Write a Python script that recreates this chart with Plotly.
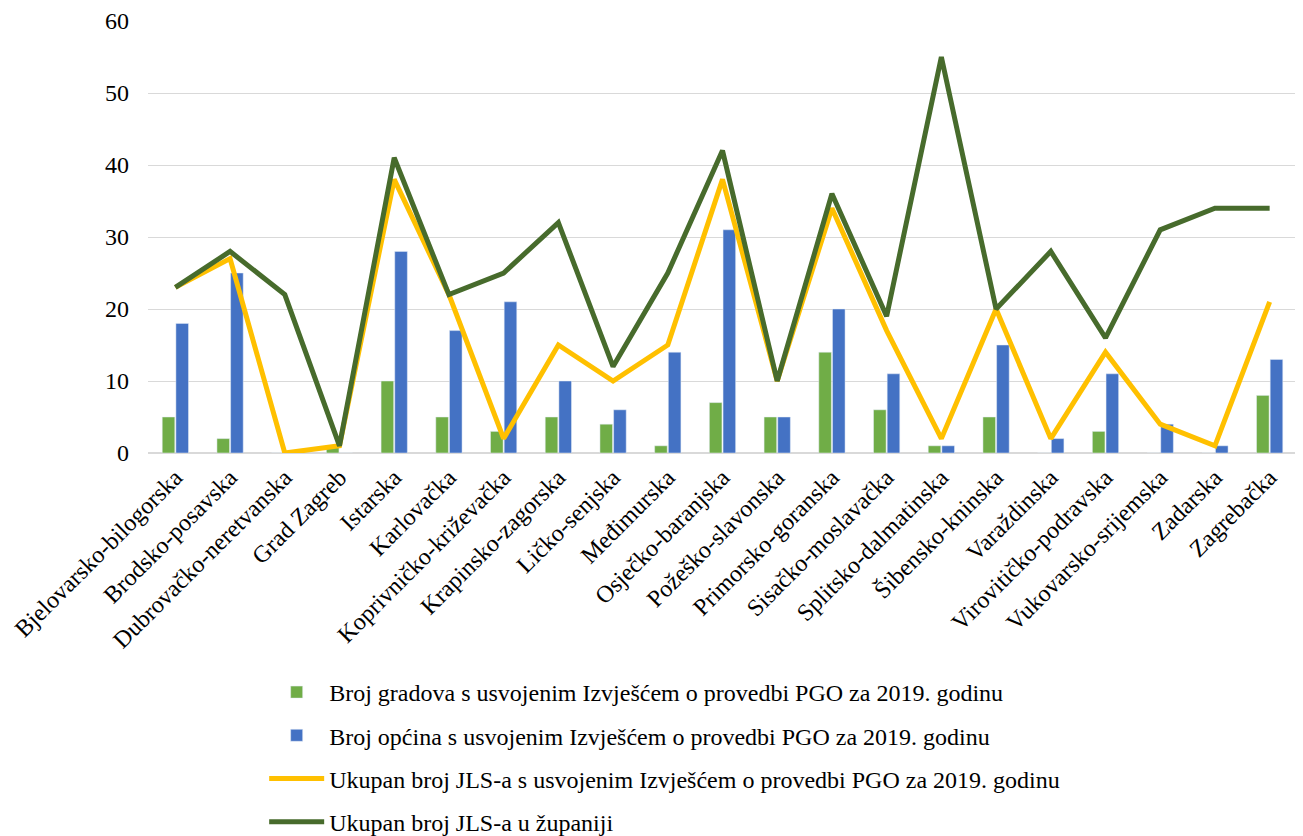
import plotly.graph_objects as go

categories = ["Bjelovarsko-bilogorska", "Brodsko-posavska", "Dubrovačko-neretvanska", "Grad Zagreb",
              "Istarska", "Karlovačka", "Koprivničko-križevačka", "Krapinsko-zagorska", "Ličko-senjska",
              "Međimurska", "Osječko-baranjska", "Požeško-slavonska", "Primorsko-goranska",
              "Sisačko-moslavačka", "Splitsko-dalmatinska", "Šibensko-kninska", "Varaždinska",
              "Virovitičko-podravska", "Vukovarsko-srijemska", "Zadarska", "Zagrebačka"]
gradovi = [5, 2, 0, 1, 10, 5, 3, 5, 4, 1, 7, 5, 14, 6, 1, 5, 0, 3, 0, 0, 8]
opcine = [18, 25, 0, 0, 28, 17, 21, 10, 6, 14, 31, 5, 20, 11, 1, 15, 2, 11, 4, 1, 13]
ukupno_usvojeno = [23, 27, 0, 1, 38, 22, 2, 15, 10, 15, 38, 10, 34, 17, 2, 20, 2, 14, 4, 1, 21]
ukupno_jls = [23, 28, 22, 1, 41, 22, 25, 32, 12, 25, 42, 10, 36, 19, 55, 20, 28, 16, 31, 34, 34]
y_ticks = [0, 10, 20, 30, 40, 50, 60]

names = ["Broj gradova s usvojenim Izvješćem o provedbi PGO za 2019. godinu",
         "Broj općina s usvojenim Izvješćem o provedbi PGO za 2019. godinu",
         "Ukupan broj JLS-a s usvojenim Izvješćem o provedbi PGO za 2019. godinu",
         "Ukupan broj JLS-a u županiji"]

fig = go.Figure()
fig.add_trace(go.Bar(x=categories, y=gradovi, name=names[0], marker_color="#70AD47",
                     legendgroup="a"))
fig.add_trace(go.Bar(x=categories, y=opcine, name=names[1], marker_color="#4472C4",
                     legendgroup="b"))
fig.add_trace(go.Scatter(x=categories, y=ukupno_usvojeno, name=names[2], mode="lines",
                         line=dict(color="#FFC000", width=5), legendgroup="c"))
fig.add_trace(go.Scatter(x=categories, y=ukupno_jls, name=names[3], mode="lines",
                         line=dict(color="#476B2C", width=5), legendgroup="d"))

fig.update_layout(
    width=1303, height=836,
    margin=dict(l=140, r=14, t=13, b=391, autoexpand=False),
    plot_bgcolor="white", paper_bgcolor="white",
    font=dict(family="Liberation Serif", size=24, color="black"),
    barmode="group", bargap=0.5, bargroupgap=0.08,
    showlegend=True,
    legend=dict(orientation="v", xref="container", yref="container",
                x=0.1966, xanchor="left", y=0.0, yanchor="bottom",
                font=dict(size=24), tracegroupgap=9, traceorder="grouped",
                itemwidth=55),
    xaxis=dict(tickangle=-45, tickfont=dict(size=24), showgrid=False, automargin=False,
               showline=True, linecolor="#D9D9D9", linewidth=1, ticks=""),
    yaxis=dict(range=[0, 60], tickvals=y_ticks, showgrid=True, gridcolor="#D9D9D9",
               gridwidth=1, zeroline=True, zerolinecolor="#D9D9D9", tickfont=dict(size=24),
               ticks="", ticklabelstandoff=18, automargin=False),
)

fig.write_html("out.html")
